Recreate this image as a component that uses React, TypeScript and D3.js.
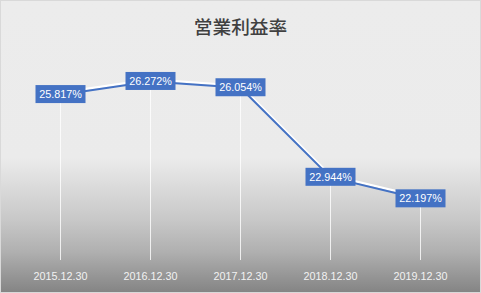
import React from "react";
import * as d3 from "d3";

const categories = ["2015.12.30", "2016.12.30", "2017.12.30", "2018.12.30", "2019.12.30"];
const values = [25.817, 26.272, 26.054, 22.944, 22.197];
const valueLabels = ["25.817%", "26.272%", "26.054%", "22.944%", "22.197%"];
const title = "営業利益率";

const W = 481;
const H = 293;

export default function App() {
  const x = d3.scaleBand<string>().domain(categories).range([15.5, 465.5]);
  const y = d3.scaleLinear().domain([20, 27]).range([261.6, 60]);
  const cx = (c: string) => (x(c) as number) + x.bandwidth() / 2;
  const pts: [number, number][] = categories.map((c, i) => [cx(c), y(values[i])]);
  const line = d3.line<[number, number]>().x((d) => d[0]).y((d) => d[1]);
  const whitePath = line(pts.map((p) => [p[0], p[1] - 1.5] as [number, number])) || "";
  const bluePath = line(pts.map((p) => [p[0], p[1] + 0.6] as [number, number])) || "";
  const boxW = 50;
  const boxH = 18;
  return (
    <svg
      width={W}
      height={H}
      style={{ position: "absolute", left: 0, top: 0 }}
      xmlns="http://www.w3.org/2000/svg"
    >
      <defs>
        <linearGradient id="bg" x1="0" y1="0" x2="0" y2="1">
          <stop offset="0" stopColor="#ececec" />
          <stop offset="0.54" stopColor="#ebebeb" />
          <stop offset="0.75" stopColor="#c8c8c8" />
          <stop offset="0.86" stopColor="#b0b0b0" />
          <stop offset="1" stopColor="#848484" />
        </linearGradient>
      </defs>
      <rect x={0.5} y={0.5} width={W - 1} height={H - 1} fill="url(#bg)" stroke="#d9d9d9" />
      <text
        x={W / 2}
        y={34}
        textAnchor="middle"
        fontFamily="'Noto Sans CJK JP', 'Noto Sans CJK SC', sans-serif"
        fontSize={18.7}
        fontWeight={500}
        fill="#404040"
      >
        {title}
      </text>
      {categories.map((c, i) => (
        <line
          key={"d" + c}
          x1={cx(c)}
          x2={cx(c)}
          y1={y(values[i])}
          y2={260}
          stroke="#ffffff"
          strokeWidth={1}
          strokeOpacity={0.8}
        />
      ))}
      <path d={whitePath} fill="none" stroke="#ffffff" strokeWidth={2.2} />
      <path d={bluePath} fill="none" stroke="#4472c4" strokeWidth={2} />
      {categories.map((c, i) => (
        <g key={"l" + c} transform={`translate(${cx(c)},${y(values[i])})`}>
          <rect x={-boxW / 2} y={-boxH / 2} width={boxW} height={boxH} fill="#4472c4" />
          <text
            x={0}
            y={4}
            textAnchor="middle"
            fontFamily="'Liberation Sans', Arial, sans-serif"
            fontSize={10.8}
            fill="#ffffff"
          >
            {valueLabels[i]}
          </text>
        </g>
      ))}
      {categories.map((c) => (
        <text
          key={"x" + c}
          x={cx(c)}
          y={280}
          textAnchor="middle"
          fontFamily="'Liberation Sans', Arial, sans-serif"
          fontSize={10.8}
          fill="#f2f2f2"
        >
          {c}
        </text>
      ))}
    </svg>
  );
}
